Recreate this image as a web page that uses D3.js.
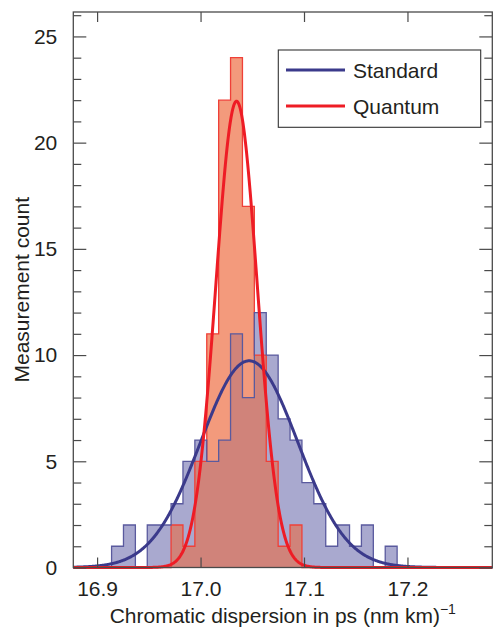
<!DOCTYPE html>
<html>
<head>
<meta charset="utf-8">
<script src="https://cdn.jsdelivr.net/npm/d3@7"></script>
<style>
  body { margin: 0; background: #fff; }
  svg text { font-family: "Liberation Sans", Arial, Helvetica, sans-serif; fill: #231f20; }
</style>
</head>
<body>
<div id="chart"></div>
<script>
// histogram bins (ps (nm km)^-1)
const binStart = 16.914;
const binWidth = 0.0115;
const standardCounts = [1, 2, 0, 2, 2, 3, 5, 6, 5, 6, 11, 8, 12, 10, 7, 6, 4, 3, 1, 2, 1, 2, 0, 1];
const quantumCounts  = [0, 0, 0, 0, 0, 2, 1, 5, 11, 22, 24, 17, 10, 5, 1, 2, 0, 0, 0, 0, 0, 0, 0, 0];

// gaussian fits
const fitNames = ["Standard", "Quantum"];
const fitMean  = [17.047, 17.0348];
const fitSigma = [0.047, 0.020];
const fitPeak  = [9.73, 21.95];

const xTicks = [16.9, 17.0, 17.1, 17.2];
const yTicks = [0, 5, 10, 15, 20, 25];

const W = 494, H = 630;
const margin = {top: 12, right: 1.7, bottom: 62.5, left: 73.3};
const width = W - margin.left - margin.right;
const height = H - margin.top - margin.bottom;

const svg = d3.select("#chart").append("svg")
    .attr("width", W)
    .attr("height", H);
const g = svg.append("g").attr("transform", `translate(${margin.left},${margin.top})`);

const x = d3.scaleLinear().domain([16.877, 17.282]).range([0, width]);
const y = d3.scaleLinear().domain([0, 26.15]).range([height, 0]);

// step points for a histogram
function stepPoints(counts) {
    let pts = [{x: binStart, y: 0}];
    counts.forEach((c, i) => pts.push({x: binStart + i * binWidth, y: c}));
    pts.push({x: binStart + counts.length * binWidth, y: 0});
    return pts;
}
const overlapCounts = standardCounts.map((c, i) => Math.min(c, quantumCounts[i]));

let area = d3.area().curve(d3.curveStepAfter)
    .x(d => x(d.x)).y0(y(0)).y1(d => y(d.y));
let line = d3.line().curve(d3.curveStepAfter)
    .x(d => x(d.x)).y(d => y(d.y));

g.append("path").attr("d", area(stepPoints(standardCounts))).attr("fill", "#a9a9cf");
g.append("path").attr("d", area(stepPoints(quantumCounts))).attr("fill", "#f39a7c");
g.append("path").attr("d", area(stepPoints(overlapCounts))).attr("fill", "#d0837a");

g.append("path").attr("d", line(stepPoints(quantumCounts)))
    .attr("fill", "none").attr("stroke", "#ef4038").attr("stroke-width", 1.3);
g.append("path").attr("d", line(stepPoints(standardCounts)))
    .attr("fill", "none").attr("stroke", "#5a5a9e").attr("stroke-width", 1.3);

// fitted curves
const fitColors = ["#3b3a8b", "#ee1c25"];
const xs = d3.range(16.877, 17.2825, 0.0005);
fitNames.forEach((name, k) => {
    let pts = xs.map(v => ({x: v, y: fitPeak[k] * Math.exp(-0.5 * Math.pow((v - fitMean[k]) / fitSigma[k], 2))}));
    g.append("path")
        .attr("d", d3.line().x(d => x(d.x)).y(d => y(d.y))(pts))
        .attr("fill", "none")
        .attr("stroke", fitColors[k])
        .attr("stroke-width", 3);
});

// axes (ticks pointing inward)
const axisColor = "#4a4a4a";
function styleAxis(sel) {
    sel.select(".domain").remove();
    sel.selectAll("line").attr("stroke", axisColor).attr("stroke-width", 1.2);
    sel.selectAll("text").style("font-size", "21px").attr("fill", "#231f20");
}
const yMinor = d3.range(0, 27).filter(v => v % 5 !== 0);

g.append("g").attr("transform", `translate(0,${height})`)
    .call(d3.axisBottom(x).tickValues(xTicks).tickFormat(d3.format(".1f")).tickSize(-10).tickPadding(13.6))
    .call(styleAxis);
g.append("g")
    .call(d3.axisTop(x).tickValues(xTicks).tickFormat("").tickSize(-10))
    .call(styleAxis);
g.append("g")
    .call(d3.axisLeft(y).tickValues(yTicks).tickFormat(d3.format("d")).tickSize(-13).tickPadding(16))
    .call(styleAxis);
g.append("g")
    .call(d3.axisLeft(y).tickValues(yMinor).tickFormat("").tickSize(-8))
    .call(styleAxis);
g.append("g").attr("transform", `translate(${width},0)`)
    .call(d3.axisRight(y).tickValues(yTicks).tickFormat("").tickSize(-13))
    .call(styleAxis);
g.append("g").attr("transform", `translate(${width},0)`)
    .call(d3.axisRight(y).tickValues(yMinor).tickFormat("").tickSize(-8))
    .call(styleAxis);

// frame
g.append("rect")
    .attr("width", width).attr("height", height)
    .attr("fill", "none").attr("stroke", axisColor).attr("stroke-width", 1.3);

// axis titles
let xt = svg.append("text")
    .attr("x", margin.left + width / 2)
    .attr("y", 623)
    .attr("text-anchor", "middle")
    .style("font-size", "21px")
    .text("Chromatic dispersion in ps (nm km)");
xt.append("tspan").attr("dy", -9).style("font-size", "14px").text("\u22121");

svg.append("text")
    .attr("transform", `translate(28.5,${margin.top + height / 2}) rotate(-90)`)
    .attr("text-anchor", "middle")
    .style("font-size", "21px")
    .text("Measurement count");

// legend
let legend = svg.append("g").attr("transform", "translate(278.3,50)");
legend.append("rect")
    .attr("width", 202.4).attr("height", 77.3)
    .attr("fill", "#fff").attr("stroke", "#333").attr("stroke-width", 1.1);
fitNames.forEach((name, k) => {
    let ly = 20 + k * 36;
    legend.append("line")
        .attr("x1", 7.7).attr("x2", 66.7).attr("y1", ly).attr("y2", ly)
        .attr("stroke", fitColors[k]).attr("stroke-width", 3);
    legend.append("text")
        .attr("x", 74.7).attr("y", ly).attr("dy", "0.36em")
        .style("font-size", "21px")
        .text(name);
});
</script>
</body>
</html>
